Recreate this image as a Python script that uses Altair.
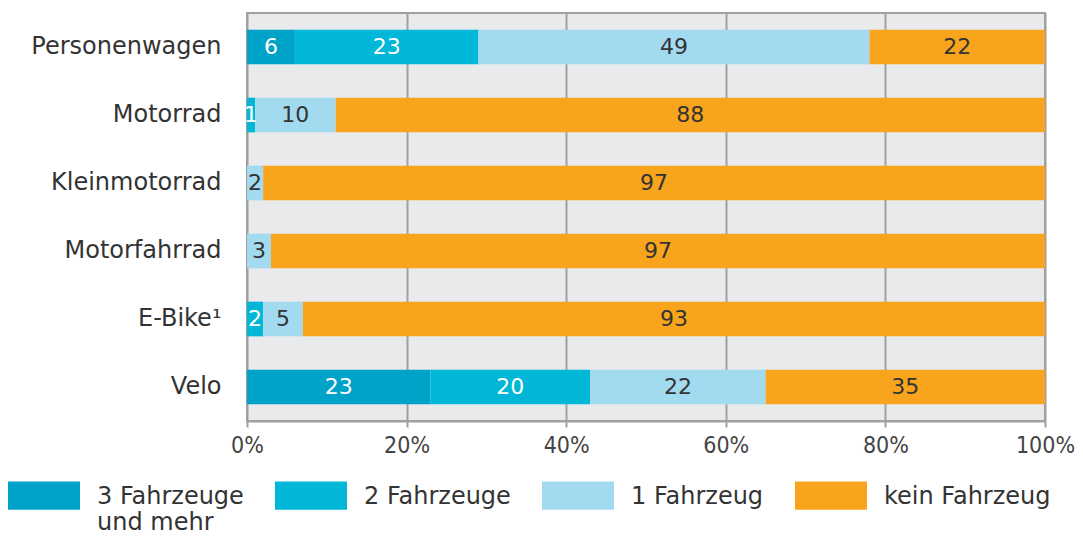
import altair as alt
import pandas as pd

categories = ["Personenwagen", "Motorrad", "Kleinmotorrad", "Motorfahrrad", "E-Bike¹", "Velo"]
groups = ["3 Fahrzeuge und mehr", "2 Fahrzeuge", "1 Fahrzeug", "kein Fahrzeug"]
colors = ["#00a3c8", "#00b7d8", "#a2dbef", "#f8a51d"]
label_colors = ["#ffffff", "#ffffff", "#333333", "#333333"]

v_3plus = [6, 0, 0, 0, 0, 23]
v_2 = [23, 1, 0, 0, 2, 20]
v_1 = [49, 10, 2, 3, 5, 22]
v_0 = [22, 88, 97, 97, 93, 35]

rows = []
for i, c in enumerate(categories):
    for g_idx, (g, vals) in enumerate(zip(groups, [v_3plus, v_2, v_1, v_0])):
        if vals[i] > 0:
            rows.append({"cat": c, "grp": g, "order": g_idx, "value": vals[i],
                         "tcol": label_colors[g_idx]})
df = pd.DataFrame(rows)

base = alt.Chart(df).transform_stack(
    stack="value", groupby=["cat"], as_=["x0", "x1"], offset="normalize",
    sort=[alt.SortField("order", order="ascending")]
).transform_calculate(mid="(datum.x0 + datum.x1) / 2")

y_enc = alt.Y("cat:N", sort=categories, title=None,
              scale=alt.Scale(paddingInner=0.49, paddingOuter=0.245),
              axis=alt.Axis(labelFont="DejaVu Sans", labelFontSize=24, labelColor="#333333",
                            labelPadding=26, ticks=False, domain=False, grid=False,
                            minExtent=239, maxExtent=239, labelLimit=239))

bars = base.mark_bar().encode(
    x=alt.X("x0:Q", scale=alt.Scale(domain=[0, 1]), title=None,
            axis=alt.Axis(format="%", values=[0, 0.2, 0.4, 0.6, 0.8, 1.0],
                          labelFont="DejaVu Sans Condensed", labelFontSize=23,
                          labelFlush=False,
                          labelColor="#444444", labelPadding=7,
                          tickColor="#a0a0a0", tickWidth=2, tickSize=6,
                          domainColor="#a0a0a0", domainWidth=2,
                          gridColor="#a0a0a0", gridWidth=2, gridOpacity=1)),
    x2="x1:Q",
    y=y_enc,
    color=alt.Color("grp:N", sort=groups,
                    scale=alt.Scale(domain=groups, range=colors),
                    legend=alt.Legend(
                        title=None, orient="none", direction="horizontal", columns=4,
                        legendX=-239, legendY=455,
                        symbolType="M-1,-0.623H1V0.157H-1Z", symbolSize=5184,
                        symbolStrokeWidth=0, symbolOpacity=1,
                        labelFont="DejaVu Sans", labelFontSize=24, labelColor="#333333",
                        labelBaseline="alphabetic",
                        labelOffset=17, columnPadding=31, labelLimit=300,
                        labelExpr="datum.label == '3 Fahrzeuge und mehr' ? ['3 Fahrzeuge', 'und mehr'] : [datum.label, ' ']")),
)

labels = base.mark_text(font="DejaVu Sans", fontSize=22).encode(
    x=alt.X("mid:Q"),
    y=alt.Y("cat:N", sort=categories),
    text=alt.Text("value:Q"),
    color=alt.Color("tcol:N", scale=None, legend=None),
)

chart = alt.layer(bars, labels).properties(
    width=798, height=408,
    autosize=alt.AutoSizeParams(type="none"),
    padding={"left": 239, "top": 5, "right": 30, "bottom": 118},
    background="white",
).configure_view(
    fill="#e9eaec", stroke="#a0a0a0", strokeWidth=2
)

chart.save("out.html", embed_options={"renderer": "svg", "actions": False})
